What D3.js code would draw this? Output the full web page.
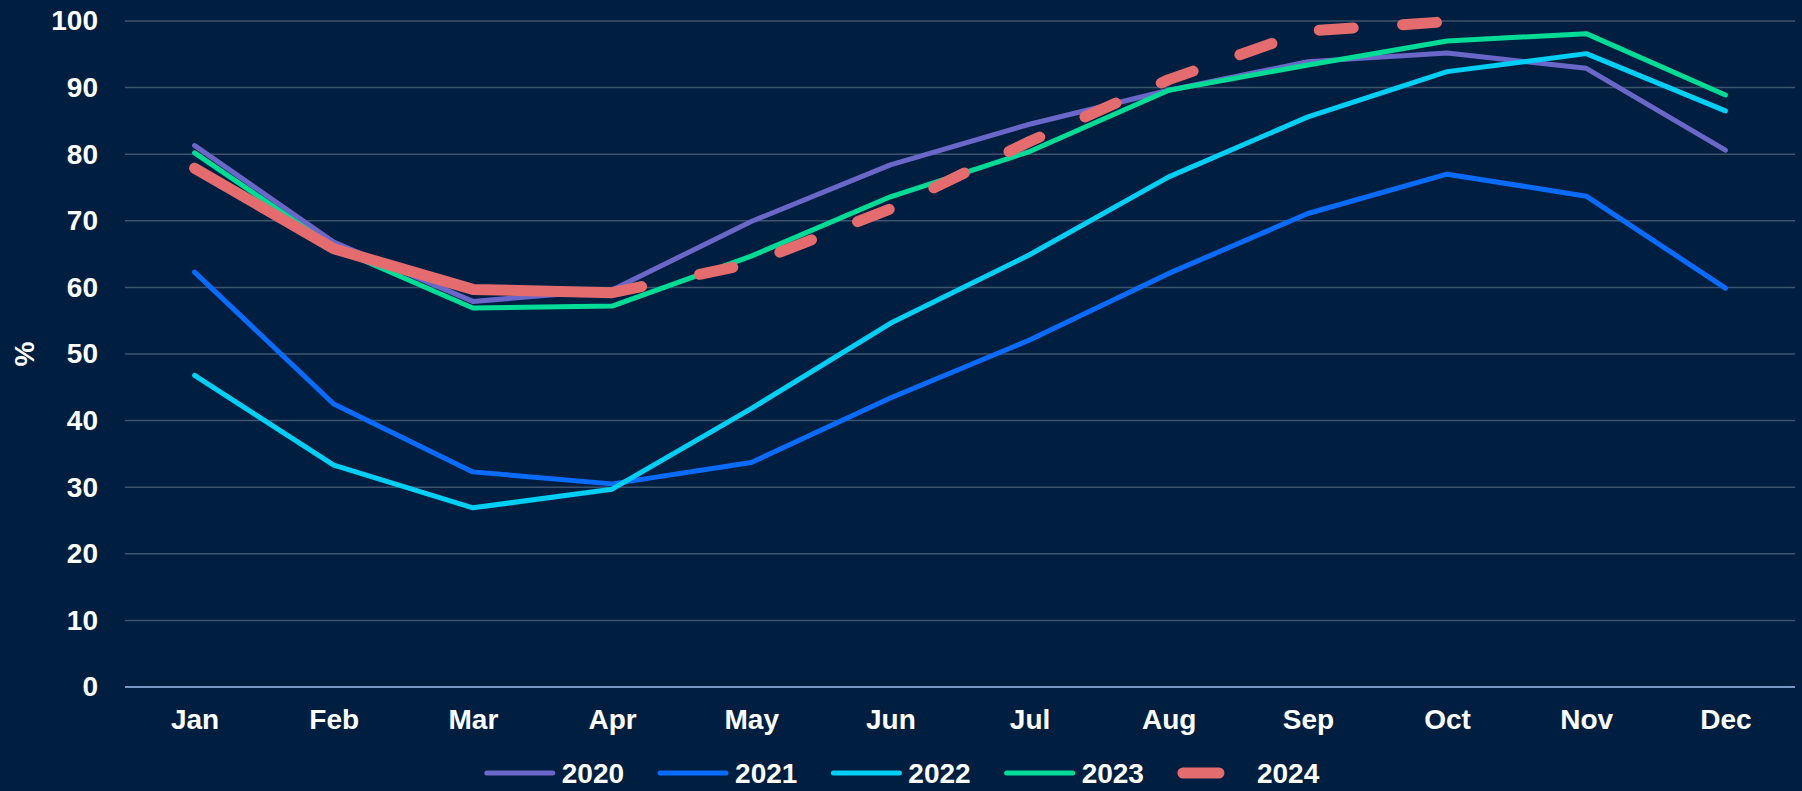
<!DOCTYPE html>
<html><head><meta charset="utf-8">
<script src="https://cdn.jsdelivr.net/npm/d3@7"></script>
<style>
html,body{margin:0;padding:0;background:#001f40;}
svg{display:block;}
text{font-family:"Liberation Sans",Arial,sans-serif;font-weight:bold;fill:#ffffff;}
</style></head>
<body>
<svg id="chart" width="1802" height="791"></svg>
<script>
const months = ["Jan","Feb","Mar","Apr","May","Jun","Jul","Aug","Sep","Oct","Nov","Dec"];
const yTicks = [0,10,20,30,40,50,60,70,80,90,100];
const seriesNames = ["2020","2021","2022","2023","2024"];
const s2020 = [81.3, 66.8, 57.9, 59.6, 69.9, 78.4, 84.5, 89.6, 93.9, 95.2, 92.9, 80.6];
const s2021 = [62.3, 42.5, 32.3, 30.5, 33.7, 43.4, 52.1, 62.1, 71.1, 77.0, 73.7, 59.9];
const s2022 = [46.8, 33.3, 26.9, 29.7, 41.8, 54.6, 64.9, 76.6, 85.6, 92.4, 95.1, 86.5];
const s2023 = [80.2, 66.0, 56.9, 57.2, 64.7, 73.6, 80.4, 89.6, 93.4, 97.0, 98.1, 88.9];
const s2024 = [77.9, 65.8, 59.7, 59.2, 63.6, 71.8, 81.9, 91.2, 98.5, 99.9, null, null];
const colors = ["#6b67c8", "#0a6bff", "#00cff5", "#00dc96", "#e46c6e"];

const W = 1802, H = 791;
const margin = {left:125, right:7, top:21, bottom:104};
const svg = d3.select("#chart");
svg.append("rect").attr("width",W).attr("height",H).attr("fill","#001f40");

const x = d3.scalePoint().domain(months).range([margin.left, W - margin.right]).padding(0.5);
const y = d3.scaleLinear().domain([0,100]).range([H - margin.bottom, margin.top]);

// gridlines
const grid = svg.append("g");
grid.selectAll("line").data(yTicks.filter(d => d > 0)).join("line")
  .attr("x1", margin.left).attr("x2", W - margin.right)
  .attr("y1", d => y(d)).attr("y2", d => y(d))
  .attr("stroke", "#3e546e").attr("stroke-width", 1.5);
// zero axis line
svg.append("line").attr("x1", margin.left).attr("x2", W - margin.right)
  .attr("y1", y(0)).attr("y2", y(0)).attr("stroke", "#9cc0ee").attr("stroke-width", 1.5);

// y axis labels
const yAxis = d3.axisLeft(y).tickValues(yTicks).tickSize(0).tickPadding(27);
const gy = svg.append("g").attr("transform", `translate(${margin.left},0)`).call(yAxis);
gy.select(".domain").remove();
gy.selectAll("text").attr("font-size", 28).attr("fill", "#fff")
  .attr("font-family", '"Liberation Sans",Arial,sans-serif').attr("font-weight", "bold");

// x axis labels
const xAxis = d3.axisBottom(x).tickSize(0).tickPadding(22);
const gx = svg.append("g").attr("transform", `translate(0,${y(0)})`).call(xAxis);
gx.select(".domain").remove();
gx.selectAll("text").attr("font-size", 28).attr("fill", "#fff")
  .attr("font-family", '"Liberation Sans",Arial,sans-serif').attr("font-weight", "bold");

// y title
svg.append("text").attr("transform", `translate(34,${(y(0)+y(100))/2}) rotate(-90)`)
  .attr("text-anchor", "middle").attr("font-size", 28).text("%");

// lines
const allSeries = [s2020, s2021, s2022, s2023, s2024];
const line = d3.line().defined(d => d.v != null).x(d => x(d.m)).y(d => y(d.v));
const lineGroup = svg.append("g");

function lengthAtX(node, total, tx) {
  let lo = 0, hi = total;
  for (let k = 0; k < 40; k++) {
    const mid = (lo + hi) / 2;
    if (node.getPointAtLength(mid).x < tx) lo = mid; else hi = mid;
  }
  return lo;
}

allSeries.forEach((arr, i) => {
  const pts = arr.map((v, j) => ({m: months[j], v}));
  const p = lineGroup.append("path").datum(pts).attr("d", line)
    .attr("fill", "none").attr("stroke", colors[i])
    .attr("stroke-linecap", "round").attr("stroke-linejoin", "round");
  if (i < 4) {
    p.attr("stroke-width", 5);
  } else {
    p.attr("stroke-width", 11);
    // solid up to a bit past Apr, then dashed
    const node = p.node();
    const total = node.getTotalLength();
    const step = x.step();
    const solidEnd = lengthAtX(node, total, x("Apr") + 29.5);
    const firstDash = lengthAtX(node, total, x("Apr") + 87.5);
    const lastDash = lengthAtX(node, total, x("Oct") - 44.5);
    const period = (lastDash - firstDash) / 9;
    const dashLen = 34;
    const dashes = [solidEnd, firstDash - solidEnd];
    let acc = firstDash;
    while (acc < total + 200) { dashes.push(dashLen, period - dashLen); acc += period; }
    p.attr("stroke-dasharray", dashes.join(","));
  }
});

// legend
const legend = svg.append("g");
const legY = 773;
const symW = 70, gapT = 7, itemGap = 34;
let cx = 0;
seriesNames.forEach((name, i) => {
  const g = legend.append("g");
  const ln = g.append("line").attr("x1", cx + 5).attr("x2", cx + symW - 5)
    .attr("y1", legY).attr("y2", legY).attr("stroke", colors[i])
    .attr("stroke-linecap", "round");
  if (i < 4) ln.attr("stroke-width", 5).attr("x1", cx + 2).attr("x2", cx + symW - 2);
  else ln.attr("stroke-width", 11).attr("stroke-dasharray", "36,60");
  const t = g.append("text").attr("x", cx + symW + gapT + (i === 4 ? 2 : 0)).attr("y", legY)
    .attr("dy", "0.35em").attr("font-size", 28).text(name);
  const tw = t.node().getComputedTextLength();
  cx += symW + gapT + tw + itemGap;
});
const legW = cx - itemGap;
legend.attr("transform", `translate(${(W - legW) / 2},0)`);
</script>
</body></html>
